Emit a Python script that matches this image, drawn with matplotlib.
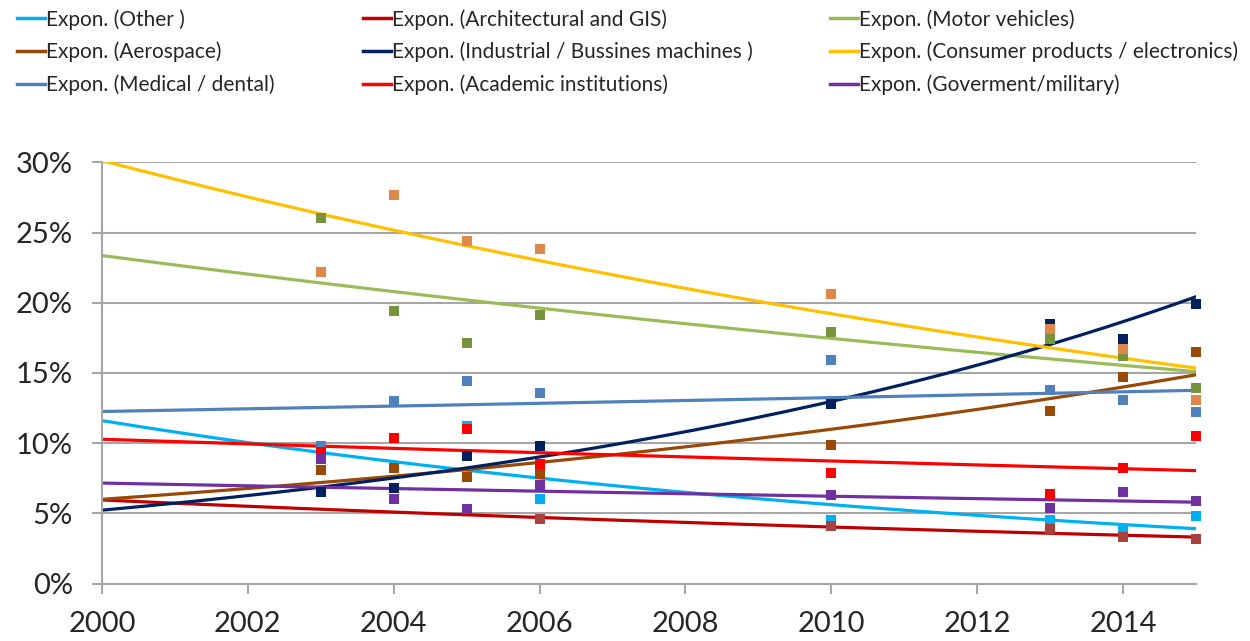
import matplotlib
matplotlib.use("Agg")
import matplotlib.pyplot as plt
import numpy as np
from matplotlib.lines import Line2D

plt.rcParams['font.family'] = ['Lato', 'DejaVu Sans']

years = [2003, 2004, 2005, 2006, 2010, 2013, 2014, 2015]
nan = np.nan

# share of each sector per year (%)
other = [9.3, nan, 11.2, 6.0, 4.5, 4.5, 3.9, 4.8]
architectural = [nan, nan, nan, 4.6, 4.1, 3.9, 3.3, 3.2]
motor = [26.0, 19.4, 17.1, 19.1, 17.9, 17.4, 16.2, 13.9]
aerospace = [8.1, 8.2, 7.6, 7.8, 9.9, 12.3, 14.7, 16.5]
industrial = [6.5, 6.8, 9.1, 9.8, 12.8, 18.5, 17.4, 19.9]
consumer = [22.2, 27.7, 24.4, 23.8, 20.6, 18.1, 16.7, 13.1]
medical = [9.8, 13.0, 14.4, 13.6, 15.9, 13.8, 13.1, 12.2]
academic = [9.4, 10.4, 11.0, 8.5, 7.9, 6.4, 8.2, 10.5]
government = [8.9, 6.0, 5.3, 7.0, 6.3, 5.4, 6.5, 5.9]

names = ['Other ', 'Architectural and GIS', 'Motor vehicles', 'Aerospace',
         'Industrial / Bussines machines ', 'Consumer products / electronics',
         'Medical / dental', 'Academic institutions', 'Goverment/military']
series = [other, architectural, motor, aerospace, industrial, consumer,
          medical, academic, government]
line_colors = ['#00B0F0', '#C00000', '#9BBB59', '#984807', '#002060',
               '#FFC000', '#4F81BD', '#FF0000', '#7030A0']
marker_colors = ['#00B0F0', '#A9423F', '#77933C', '#984807', '#002060',
                 '#E0884A', '#4F81BD', '#FF0000', '#7030A0']

fig = plt.figure(figsize=(12.5, 6.41), dpi=100)
ax = fig.add_axes([0.0816, 0.0895, 0.8752, 0.6573])

x = np.array(years, dtype=float)
xs = np.linspace(2000, 2015, 300)
handles = []
for vals, name, lc, mc in zip(series, names, line_colors, marker_colors):
    y = np.array(vals, dtype=float)
    ok = ~np.isnan(y)
    # exponential trendline, fitted like Excel does
    b, a = np.polyfit(x[ok] - 2000, np.log(y[ok]), 1)
    ax.plot(xs, np.exp(a + b * (xs - 2000)) / 100, color=lc, lw=2.3, zorder=2)
    ax.plot(x[ok], y[ok] / 100, 's', color=mc, ms=6.5, mew=0, zorder=3,
            clip_on=False)
    handles.append(Line2D([], [], color=lc, lw=2.5, label='Expon. (' + name + ')'))

ax.set_xlim(2000, 2015)
ax.set_ylim(0, 0.30)
ax.set_xticks(range(2000, 2015, 2))
ax.set_yticks(np.arange(0, 0.301, 0.05))
ax.set_yticklabels([f'{int(round(v * 100))}%' for v in np.arange(0, 0.301, 0.05)])
ax.grid(axis='y', color='#A6A6A6', lw=1.5)
ax.set_axisbelow(True)
for s in ['top', 'right']:
    ax.spines[s].set_visible(False)
for s in ['left', 'bottom']:
    ax.spines[s].set_color('#A6A6A6')
    ax.spines[s].set_linewidth(1.5)
ax.tick_params(axis='both', colors='#A6A6A6', labelcolor='#262626',
               labelsize=21, length=7, width=1.5)
ax.tick_params(axis='y', pad=14)
ax.tick_params(axis='x', pad=13)

# legend: three columns laid out row by row
col_x = [0.0066, 0.284, 0.657]
for i, cx in enumerate(col_x):
    fig.legend(handles=handles[i::3], loc='upper left', bbox_to_anchor=(cx, 0.999),
               frameon=False, fontsize=15, handlelength=1.35, handletextpad=0.05,
               labelspacing=0.58, borderaxespad=0.0, labelcolor='#262626')

fig.savefig('out.png', dpi=100)
